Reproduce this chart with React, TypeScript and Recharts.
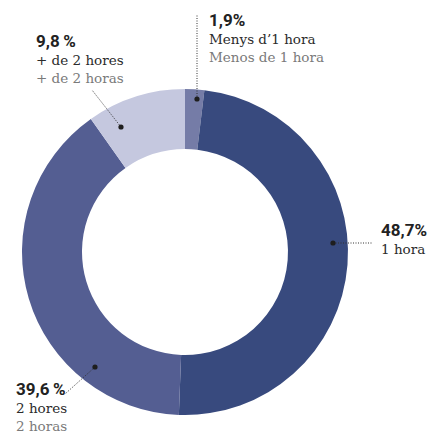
import React from "react";
import { PieChart, Pie, Cell } from "recharts";

const categories = ["Menys d\u20191 hora", "1 hora", "2 hores", "+ de 2 hores"];
const categoriesEs = ["Menos de 1 hora", "1 hora", "2 horas", "+ de 2 horas"];
const values = [1.9, 48.7, 39.6, 9.8];
const valueLabels = ["1,9%", "48,7%", "39,6\u2009%", "9,8\u2009%"];

const colors = ["#757ca7", "#384a7e", "#545e92", "#c5c8df"];

// annotation layout, relative to the pie center
const layout = [
  { dot: [12, -153], end: [12, -238], text: [24, -226], lines: 3 },
  { dot: [148, -9], end: [188, -9], text: [196, -16], lines: 2 },
  { dot: [-90, 115], end: [-120, 142], text: [-169, 143], lines: 3 },
  { dot: [-64, -125], end: [-93, -162], text: [-149, -205], lines: 3 },
];

const data = categories.map((c, i) => ({ name: c, nameEs: categoriesEs[i], value: values[i] }));

const SANS = "Roboto, 'DejaVu Sans', sans-serif";
const SERIF = "'DejaVu Serif', serif";

function renderLabel(props: any) {
  const { cx, cy, index } = props;
  const l = layout[index];
  const dx = cx + l.dot[0];
  const dy = cy + l.dot[1];
  const ex = cx + l.end[0];
  const ey = cy + l.end[1];
  const tx = cx + l.text[0];
  const ty = cy + l.text[1];
  return (
    <g key={`lab-${index}`}>
      <line x1={dx} y1={dy} x2={ex} y2={ey} stroke="#333" strokeWidth={1} strokeDasharray="1 1.5" />
      <circle cx={dx} cy={dy} r={2.6} fill="#1e1e1e" />
      <text x={tx} y={ty} fontFamily={SANS} fontWeight={700} fontSize={17} fill="#222">
        {valueLabels[index]}
      </text>
      <text x={tx} y={ty + 17.5} fontFamily={SERIF} fontSize={13.5} fill="#2b2b2b">
        {categories[index]}
      </text>
      {l.lines === 3 && (
        <text x={tx} y={ty + 35.5} fontFamily={SERIF} fontSize={13.5} fill="#7a7a7a">
          {categoriesEs[index]}
        </text>
      )}
    </g>
  );
}

export default function App() {
  return (
    <div style={{ position: "absolute", left: 0, top: 0, width: 430, height: 439, background: "#fff" }}>
      <PieChart width={430} height={439} margin={{ top: 0, right: 0, bottom: 0, left: 0 }}>
        <Pie
          data={data}
          dataKey="value"
          nameKey="name"
          cx={185}
          cy={252}
          innerRadius={103}
          outerRadius={163}
          startAngle={90}
          endAngle={-270}
          stroke="none"
          isAnimationActive={false}
          label={renderLabel}
          labelLine={false}
        >
          {data.map((d, i) => (
            <Cell key={d.name} fill={colors[i]} />
          ))}
        </Pie>
      </PieChart>
    </div>
  );
}
